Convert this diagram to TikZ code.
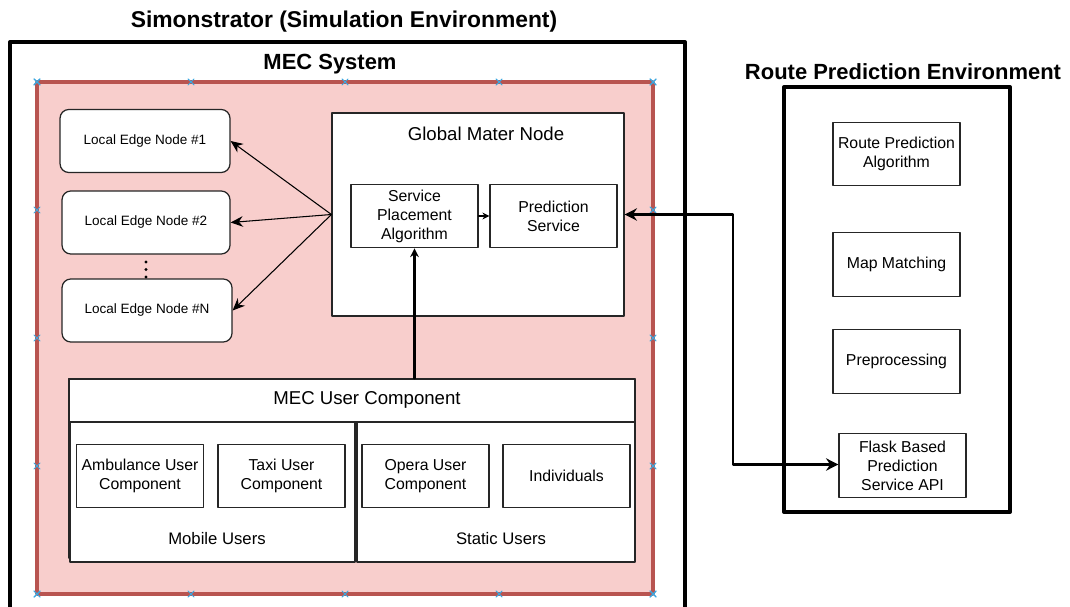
\documentclass[tikz,border=0pt]{standalone}
\usepackage{fontspec}
\setmainfont{Liberation Sans}
\usepackage{tikz}
\usetikzlibrary{arrows.meta,calc}

\definecolor{mecfill}{HTML}{F8CECC}
\definecolor{mecline}{HTML}{B85450}
\definecolor{selblue}{HTML}{3BA7E0}

\begin{document}
\begin{tikzpicture}[line cap=round,line join=round,>={Stealth[length=7pt,width=6pt]},x=0.02cm,y=-0.02cm,
    envtitle/.style={font=\fontsize{12.5}{15}\selectfont\bfseries},
    compbox/.style={draw=black!85,line width=0.7pt,fill=white,align=center,inner sep=0pt,
        minimum width=2.54cm,minimum height=1.27cm,font=\fontsize{9}{10.8}\selectfont},
    edgebox/.style={draw=black!85,line width=0.7pt,fill=white,rounded corners=5pt,inner sep=0pt,
        minimum height=1.26cm,font=\fontsize{7.7}{9}\selectfont},
    panel/.style={draw=black!85,line width=0.7pt,fill=white,inner sep=0pt},
    selmark/.style={draw=selblue,line width=0.6pt}]
    \useasboundingbox (0,0) rectangle (1070,607);

    % simulation environment
    \draw [line width=2.2pt] (10,607) -- (10,42) -- (685,42) -- (685,607);
    \node[envtitle,font=\fontsize{13}{15}\selectfont\bfseries] (simtitle) at (344,22) {Simonstrator (Simulation Environment)};
    \node[envtitle] (mectitle) at (330,64) {MEC System};
    \draw [line width=2pt,draw=mecline,fill=mecfill] (37,82) rectangle (653,594);
    \foreach \t in {0,...,4}{
        \pgfmathsetmacro\px{37+154*\t}
        \pgfmathsetmacro\py{82+128*\t}
        \foreach \a/\b in {\px/82,\px/594,37/\py,653/\py}
            \draw[selmark] (\a-3,\b-3) -- (\a+3,\b+3) (\a-3,\b+3) -- (\a+3,\b-3);
    }

    % local edge nodes
    \node[edgebox,minimum width=3.4cm] (len1) at (145,141) {\raisebox{-1pt}{Local Edge Node \#1}};
    \node[edgebox,minimum width=3.36cm] (len2) at (146,222.5) {\raisebox{-1pt}{Local Edge Node \#2}};
    \node[edgebox,minimum width=3.4cm] (lenN) at (147,310.5) {\raisebox{-1pt}{Local Edge Node \#N}};
    \foreach \y in {262,269.5,277}
        \fill (146,\y) circle (0.9pt);

    % global master node
    \node[panel,minimum width=5.84cm,minimum height=4.06cm] (gmn) at (478,214.5) {};
    \node[font=\fontsize{10.6}{12}\selectfont] (gmntitle) at (486,133.5) {Global Mater Node};
    \node[compbox] (spa) at (414.5,216) {Service\\Placement\\Algorithm};
    \node[compbox] (psv) at (553.5,216) {Prediction\\Service};
    \draw [->,line width=0.8pt,>={Stealth[length=4pt,width=4pt]}] (spa) -- (psv);
    \draw [->,line width=0.6pt] (gmn.west) -- (len1.east);
    \draw [->,line width=0.6pt] (gmn.west) -- (len2.east);
    \draw [->,line width=0.6pt] (gmn.west) -- (lenN.east);

    % MEC user component
    \node[panel,minimum width=11.32cm,minimum height=3.58cm] (mecu) at (352,468.5) {};
    \node[panel,minimum width=11.32cm,minimum height=0.86cm] (mechead) at (352,400.5) {};
    \node[font=\fontsize{10.6}{12}\selectfont] (mecutitle) at (367,399.5) {MEC User Component};
    \node[panel,minimum width=5.7cm,minimum height=2.8cm] (mobile) at (212.5,492) {};
    \node[panel,minimum width=5.56cm,minimum height=2.8cm] (static) at (496,492) {};
    \node[font=\fontsize{9.5}{11}\selectfont] (mobiletitle) at (217,538.5) {Mobile Users};
    \node[font=\fontsize{9.5}{11}\selectfont] (statictitle) at (501,538.5) {Static Users};
    \node[compbox] (amb) at (140,476) {Ambulance User\\Component};
    \node[compbox] (taxi) at (281.5,476) {Taxi User\\Component};
    \node[compbox] (opera) at (425.5,476) {Opera User\\Component};
    \node[compbox] (indiv) at (566.5,476) {Individuals};
    \draw [->,line width=1.2pt,>={Stealth[length=5pt,width=5pt]}] (spa.south |- mecu.north) -- (spa.south);

    % route prediction environment
    \node[draw,line width=2.4pt,minimum width=4.52cm,minimum height=8.5cm] (rpe) at (897,299.5) {};
    \node[envtitle] (rpetitle) at (903,72) {Route Prediction Environment};
    \node[compbox] (rpa) at (896.5,154) {Route Prediction\\Algorithm};
    \node[compbox] (mm) at (896.5,264.5) {Map Matching};
    \node[compbox] (pre) at (896.5,361.5) {Preprocessing};
    \node[compbox] (flask) at (902.5,465.5) {Flask Based\\Prediction\\Service API};
    \coordinate (bend) at (733,464.5);
    \draw [<->,line width=1.2pt,>={Stealth[length=7pt,width=7pt]}] (gmn.east) -| (bend) -- (flask.west |- bend);
\end{tikzpicture}
\end{document}
